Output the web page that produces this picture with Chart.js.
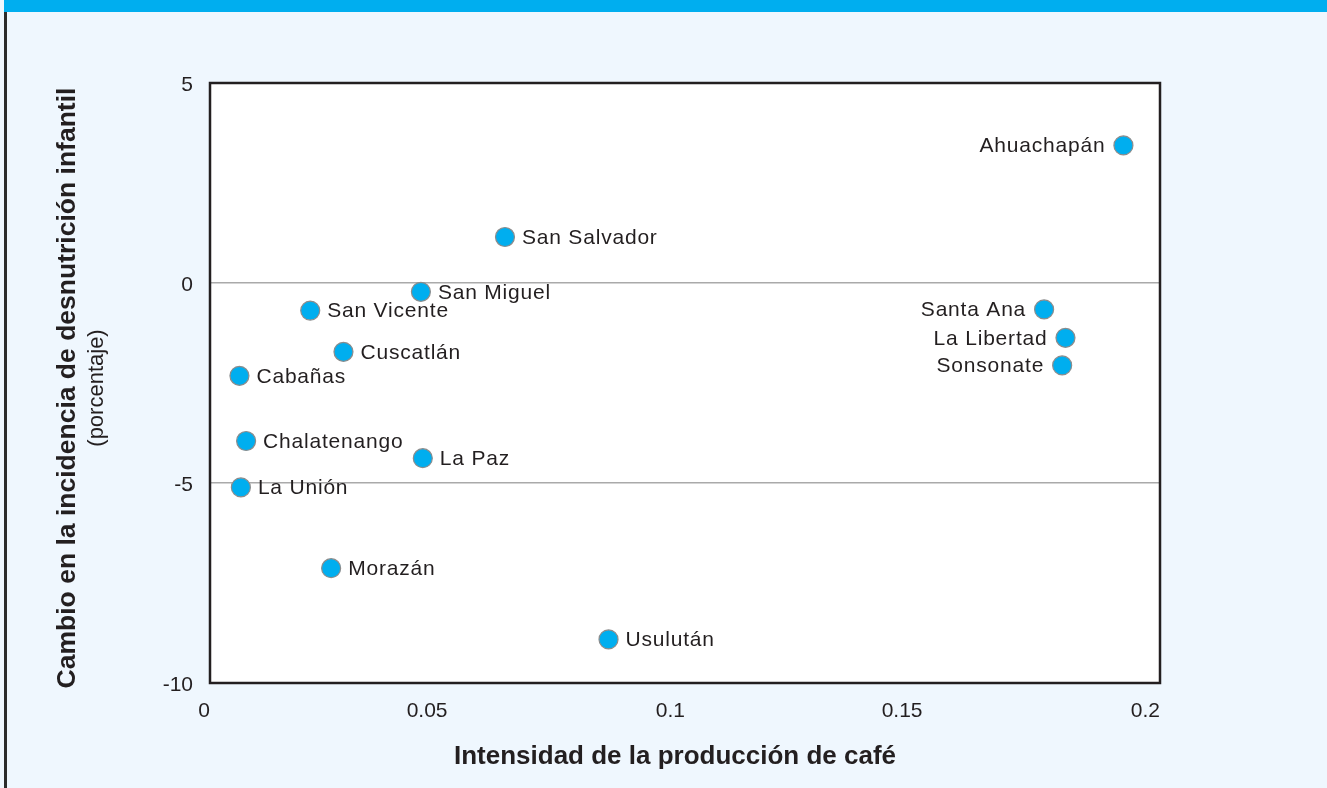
<!DOCTYPE html>
<html>
<head>
<meta charset="utf-8">
<script src="https://cdn.jsdelivr.net/npm/chart.js@4/dist/chart.umd.min.js"></script>
<style>
    body { margin: 0; background: #eff7fe; overflow: hidden; }
    #topbar { position: absolute; left: 4px; top: 0; right: 0; height: 12px; background: #00aeef; }
    #leftline { position: absolute; left: 4px; top: 12px; bottom: 0; width: 3px; background: #2b2b2b; }
    #wrap { position: absolute; left: 0; top: 0; width: 1327px; height: 788px; }
</style>
</head>
<body>
<div id="topbar"></div>
<div id="leftline"></div>
<div id="wrap"><canvas id="chart" width="1327" height="788"></canvas></div>
<script>
// departamentos de El Salvador
const departments = ['Ahuachapán', 'Santa Ana', 'Sonsonate', 'Chalatenango', 'La Libertad', 'San Salvador', 'Cuscatlán',
    'La Paz', 'Cabañas', 'San Vicente', 'Usulután', 'San Miguel', 'Morazán', 'La Unión'];
// intensidad de la produccion de cafe (eje x)
const coffeeIntensity = [0.1923, 0.1756, 0.1794, 0.0076, 0.1801, 0.0621, 0.0281,
    0.0448, 0.0062, 0.0211, 0.0839, 0.0444, 0.0255, 0.0065];
// cambio en desnutricion infantil, porcentaje (eje y)
const malnutritionChange = [3.44, -0.66, -2.06, -3.95, -1.37, 1.15, -1.72,
    -4.38, -2.32, -0.69, -8.91, -0.22, -7.13, -5.11];
const xTicks = [0, 0.05, 0.1, 0.15, 0.2];
const yTicks = [-10, -5, 0, 5];

const xTitle = 'Intensidad de la producción de café';
const yTitle = 'Cambio en la incidencia de desnutrición infantil';
const ySubtitle = '(porcentaje)';

const textColor = '#231f20';
const fontFamily = '"Liberation Sans", Arial, sans-serif';
const points = departments.map((d, i) => ({ x: coffeeIntensity[i], y: malnutritionChange[i] }));

// white plot area + dark frame
const frame = {
    id: 'frame',
    beforeDraw(chart) {
        const { ctx, chartArea: a } = chart;
        ctx.save();
        ctx.fillStyle = '#ffffff';
        ctx.fillRect(a.left, a.top, a.right - a.left, a.bottom - a.top);
        ctx.restore();
    },
    afterDraw(chart) {
        const { ctx, chartArea: a } = chart;
        ctx.save();
        ctx.strokeStyle = textColor;
        ctx.lineWidth = 2.5;
        ctx.strokeRect(a.left, a.top, a.right - a.left, a.bottom - a.top);

        // axis titles
        ctx.fillStyle = textColor;
        ctx.textAlign = 'center';
        ctx.textBaseline = 'middle';
        ctx.font = 'bold 26px ' + fontFamily;
        ctx.fillText(xTitle, 675, 757);
        ctx.translate(68, 388);
        ctx.rotate(-Math.PI / 2);
        ctx.font = 'bold 26.5px ' + fontFamily;
        ctx.fillText(yTitle, 0, 0);
        ctx.font = '22px ' + fontFamily;
        ctx.fillText(ySubtitle, 0, 29);
        ctx.restore();
    }
};

// department names beside each dot
const pointLabels = {
    id: 'pointLabels',
    afterDatasetsDraw(chart) {
        const { ctx } = chart;
        const meta = chart.getDatasetMeta(0);
        ctx.save();
        ctx.font = '21px ' + fontFamily;
        ctx.letterSpacing = '0.8px';
        ctx.fillStyle = textColor;
        ctx.textBaseline = 'middle';
        meta.data.forEach((pt, i) => {
            if (coffeeIntensity[i] > 0.15) {
                ctx.textAlign = 'right';
                ctx.fillText(departments[i], pt.x - 18, pt.y + 1);
            } else {
                ctx.textAlign = 'left';
                ctx.fillText(departments[i], pt.x + 17, pt.y + 1);
            }
        });
        ctx.restore();
    }
};

new Chart(document.getElementById('chart'), {
    type: 'scatter',
    data: {
        datasets: [{
            data: points,
            pointRadius: 9.5,
            pointHoverRadius: 9.5,
            backgroundColor: '#00aeef',
            borderColor: '#8c8c8c',
            borderWidth: 1.2
        }]
    },
    options: {
        responsive: false,
        animation: false,
        layout: { padding: { top: 83, right: 167, left: 0, bottom: 0 } },
        plugins: { legend: { display: false }, tooltip: { enabled: false } },
        scales: {
            x: {
                type: 'linear',
                min: 0, max: 0.2,
                afterFit(scale) { scale.height = 105; },
                afterBuildTicks(scale) { scale.ticks = xTicks.map(v => ({ value: v })); },
                grid: { display: false, drawTicks: false },
                border: { display: false },
                ticks: {
                    align: 'end',
                    padding: 16,
                    color: textColor,
                    callback: v => String(v),
                    font: { family: fontFamily, size: 21 }
                }
            },
            y: {
                type: 'linear',
                min: -10, max: 5,
                afterFit(scale) { scale.width = 210; },
                afterBuildTicks(scale) { scale.ticks = yTicks.map(v => ({ value: v })); },
                grid: {
                    drawTicks: false,
                    lineWidth: 1.5,
                    color: ctx => (ctx.tick && (ctx.tick.value === 0 || ctx.tick.value === -5)) ? '#aaaaaa' : 'rgba(0,0,0,0)'
                },
                border: { display: false },
                ticks: {
                    padding: 17,
                    labelOffset: 2,
                    color: textColor,
                    callback: v => String(v),
                    font: { family: fontFamily, size: 21 }
                }
            }
        }
    },
    plugins: [frame, pointLabels]
});
</script>
</body>
</html>
